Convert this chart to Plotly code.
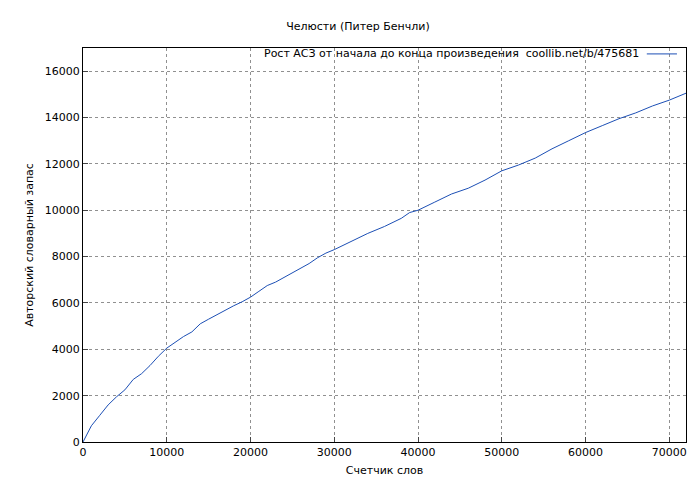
import plotly.graph_objects as go

words = [0,1000,2000,3000,4000,5000,6000,7000,8000,9000,10000,11000,12000,13000,14000,15000,16000,17000,18000,19000,20000,21000,22000,23000,24000,25000,26000,27000,28000,29000,30000,32000,34000,36000,38000,39000,40000,42000,44000,46000,48000,50000,52000,54000,56000,58000,60000,62000,64000,66000,68000,70000,72000]
vocab = [0,700,1150,1600,1950,2250,2700,2950,3300,3700,4050,4300,4550,4750,5100,5300,5500,5700,5880,6050,6250,6500,6750,6900,7100,7300,7500,7700,7950,8150,8300,8650,9000,9300,9650,9900,10000,10350,10700,10950,11300,11700,11950,12250,12650,13000,13350,13650,13950,14200,14500,14750,15050]

color = "#1c4fb5"
font = dict(family="DejaVu Sans", size=11, color="black")
fig = go.Figure(go.Scatter(x=words, y=vocab, mode="lines", line=dict(color=color, width=1), showlegend=False))
ax = dict(showline=True, linecolor="black", linewidth=1, mirror=True, ticks="inside", ticklen=5,
          showgrid=True, gridcolor="#909090", griddash="dot", gridwidth=1, zeroline=False, tickfont=font,
          tickformat="d", automargin=False)
fig.update_layout(
    width=700, height=480, paper_bgcolor="white", plot_bgcolor="white",
    margin=dict(l=75, r=22, t=40, b=46), font=font,
    title=dict(text="Челюсти (Питер Бенчли)", x=0.5, y=0.9625, yref="container", xanchor="center", yanchor="middle", font=font, automargin=False),
    xaxis=dict(ax, range=[0, 72000], dtick=10000, title=dict(text="Счетчик слов", font=font, standoff=8)),
    yaxis=dict(ax, range=[0, 17000], dtick=2000, title=dict(text="Авторский словарный запас", font=font, standoff=8)),
    annotations=[dict(text="Рост АСЗ от начала до конца произведения  coollib.net/b/475681", xref="paper", yref="paper",
                      x=0.925, y=0.985, xanchor="right", yanchor="middle", showarrow=False, font=font)],
    shapes=[dict(type="line", xref="paper", yref="paper", x0=0.935, x1=0.985, y0=0.985, y1=0.985,
                 line=dict(color=color, width=1))],
)
fig.write_html("out.html")
